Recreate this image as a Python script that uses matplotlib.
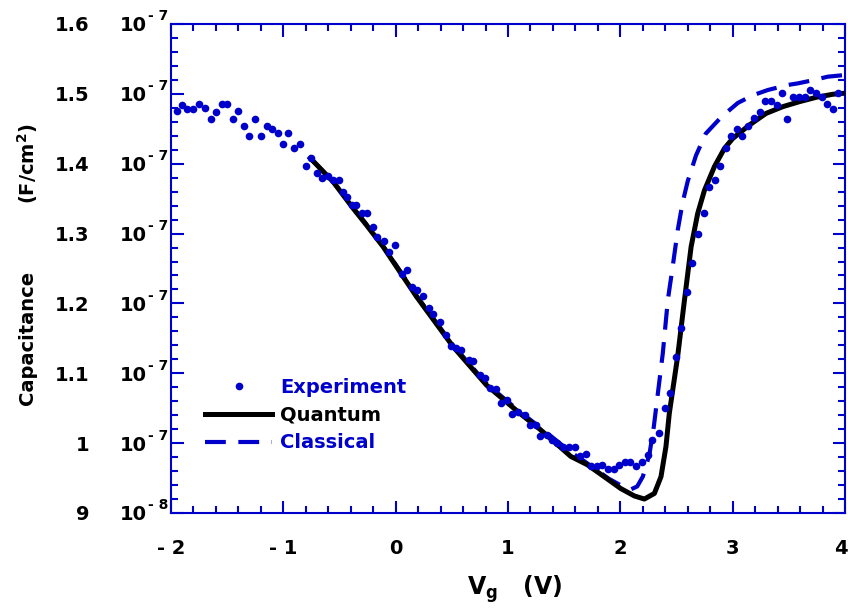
import numpy as np
import matplotlib
matplotlib.use('Agg')
import matplotlib.pyplot as plt
from matplotlib.ticker import MultipleLocator
from matplotlib.transforms import ScaledTranslation

plt.rcParams['font.family'] = ['DejaVu Sans']
plt.rcParams['font.weight'] = 'bold'
plt.rcParams['mathtext.default'] = 'bf'

BLUE = '#0000cc'

# gate voltage (V) and capacitance (in units of 1e-7 F/cm^2)
vg_exp = [-1.95, -1.905, -1.855, -1.80, -1.75, -1.70, -1.647, -1.60, -1.55, -1.50,
          -1.45, -1.40, -1.35, -1.306, -1.253, -1.202, -1.149, -1.104, -1.051, -1.006,
          -0.956, -0.903, -0.852, -0.802, -0.757, -0.704, -0.654, -0.601, -0.556, -0.505,
          -0.467, -0.43, -0.392, -0.354, -0.303, -0.254, -0.200, -0.165, -0.105, -0.058,
          -0.007, 0.052, 0.097, 0.141, 0.186, 0.245, 0.298, 0.334, 0.399, 0.447,
          0.497, 0.536, 0.586, 0.654, 0.690, 0.749, 0.794, 0.838, 0.891, 0.942,
          0.992, 1.040, 1.090, 1.149, 1.194, 1.247, 1.289, 1.343, 1.396, 1.440,
          1.490, 1.544, 1.594, 1.639, 1.692, 1.743, 1.793, 1.840, 1.890, 1.941,
          1.988, 2.039, 2.090, 2.143, 2.193, 2.246, 2.286, 2.344, 2.395, 2.440,
          2.493, 2.537, 2.591, 2.641, 2.695, 2.742, 2.789, 2.840, 2.887, 2.941,
          2.988, 3.040, 3.085, 3.136, 3.189, 3.240, 3.290, 3.337, 3.394, 3.438,
          3.486, 3.536, 3.587, 3.640, 3.691, 3.738, 3.792, 3.839, 3.892, 3.937]
c_exp = [1.4755, 1.484, 1.479, 1.479, 1.485, 1.480, 1.464, 1.4745, 1.485, 1.485,
         1.464, 1.4755, 1.4545, 1.439, 1.464, 1.439, 1.4545, 1.449, 1.4435, 1.428,
         1.4435, 1.423, 1.428, 1.397, 1.408, 1.387, 1.380, 1.3825, 1.377, 1.377,
         1.360, 1.352, 1.341, 1.341, 1.330, 1.330, 1.309, 1.295, 1.290, 1.273,
         1.283, 1.242, 1.248, 1.224, 1.219, 1.211, 1.193, 1.185, 1.174, 1.155,
         1.139, 1.136, 1.133, 1.119, 1.118, 1.0976, 1.093, 1.0785, 1.077, 1.057,
         1.062, 1.042, 1.045, 1.040, 1.026, 1.026, 1.010, 1.0117, 1.0045, 1.0007,
         0.995, 0.995, 0.995, 0.981, 0.9845, 0.967, 0.967, 0.9687, 0.9626, 0.9626,
         0.9687, 0.9735, 0.9735, 0.967, 0.9735, 0.983, 1.0045, 1.014, 1.050, 1.0713,
         1.123, 1.165, 1.216, 1.2575, 1.2994, 1.330, 1.366, 1.377, 1.397, 1.423,
         1.439, 1.449, 1.439, 1.454, 1.465, 1.4745, 1.490, 1.490, 1.484, 1.501,
         1.4645, 1.495, 1.495, 1.495, 1.5055, 1.5017, 1.495, 1.485, 1.479, 1.501]

vg_quantum = [-0.76, -0.556, -0.378, -0.259, -0.111, 0.037, 0.186, 0.512, 0.809, 1.105,
              1.283, 1.559, 1.707, 1.856, 2.004, 2.125, 2.214, 2.303, 2.362, 2.406,
              2.436, 2.47, 2.511, 2.571, 2.630, 2.689, 2.749, 2.838, 2.927, 3.0,
              3.149, 3.297, 3.445, 3.594, 3.742, 3.891, 4.0]
c_quantum = [1.408, 1.374, 1.336, 1.312, 1.281, 1.2454, 1.2096, 1.138, 1.083, 1.0427,
             1.020, 0.981, 0.969, 0.952, 0.935, 0.9244, 0.920, 0.928, 0.952, 0.995,
             1.0427, 1.08, 1.125, 1.205, 1.281, 1.329, 1.362, 1.396, 1.422, 1.436,
             1.4554, 1.472, 1.4816, 1.4888, 1.495, 1.4994, 1.501]

vg_classical = [-0.76, -0.556, -0.378, -0.259, -0.111, 0.037, 0.186, 0.512, 0.809, 1.105,
                1.283, 1.559, 1.672, 1.898, 2.0, 2.097, 2.15, 2.20, 2.259, 2.298,
                2.334, 2.378, 2.423, 2.466, 2.511, 2.555, 2.6, 2.674, 2.76, 2.9,
                3.046, 3.18, 3.313, 3.49, 3.58, 3.729, 3.847, 4.0]
c_classical = [1.408, 1.374, 1.337, 1.313, 1.282, 1.247, 1.211, 1.140, 1.085, 1.045,
               1.023, 0.987, 0.975, 0.949, 0.940, 0.934, 0.938, 0.952, 0.984, 1.0236,
               1.071, 1.1286, 1.205, 1.2526, 1.305, 1.345, 1.375, 1.412, 1.443, 1.467,
               1.487, 1.498, 1.5055, 1.5127, 1.515, 1.52, 1.5246, 1.527]

xtick_vals = [-2, -1, 0, 1, 2, 3, 4]
xtick_labels = ['- 2', '- 1', '0', '1', '2', '3', '4']
ytick_vals = [0.9, 1.0, 1.1, 1.2, 1.3, 1.4, 1.5, 1.6]
ytick_mant = ['9', '1', '1.1', '1.2', '1.3', '1.4', '1.5', '1.6']
ytick_exp = ['- 8', '- 7', '- 7', '- 7', '- 7', '- 7', '- 7', '- 7']

scale = 1e-7

fig = plt.figure(figsize=(8.48, 6.09), dpi=100)
ax = fig.add_axes([171 / 848, 96 / 609, 674 / 848, 489 / 609])

cl, = ax.plot(vg_classical, np.array(c_classical) * scale, color=BLUE, lw=3,
              dashes=(5, 3), zorder=2)
ql, = ax.plot(vg_quantum, np.array(c_quantum) * scale, color='black', lw=3.6,
              solid_joinstyle='round', zorder=3)
ep, = ax.plot(vg_exp, np.array(c_exp) * scale, 'o', color=BLUE, ms=5.5, mew=0,
              zorder=4)

ax.set_xlim(-2, 4)
ax.set_ylim(0.9 * scale, 1.6 * scale)
ax.set_xticks(xtick_vals)
ax.set_xticklabels(xtick_labels)
ax.xaxis.set_minor_locator(MultipleLocator(0.2))
ax.set_yticks([v * scale for v in ytick_vals])
ax.set_yticklabels(ytick_mant)
ax.yaxis.set_minor_locator(MultipleLocator(0.02 * scale))

ax.tick_params(which='both', direction='in', top=True, right=True,
               color=BLUE, width=1.5, labelsize=14)
ax.tick_params(which='major', length=9)
ax.tick_params(which='minor', length=5)
ax.tick_params(axis='x', pad=18.5)
ax.tick_params(axis='y', pad=59)
for s in ax.spines.values():
    s.set_color(BLUE)
    s.set_linewidth(1.5)

# keep the last x label inside the figure edge
last = ax.get_xticklabels()[-1]
last.set_transform(last.get_transform() + ScaledTranslation(-4 / 100, 0, fig.dpi_scale_trans))

# the "10^-7" part of each y tick label
for v, e in zip(ytick_vals, ytick_exp):
    ax.annotate('10', xy=(0, v * scale), xycoords=('axes fraction', 'data'),
                xytext=(-17.3, 0), textcoords='offset points', ha='right',
                va='center_baseline', fontsize=14, annotation_clip=False)
    ax.annotate(e, xy=(0, v * scale), xycoords=('axes fraction', 'data'),
                xytext=(-16.5, 6.5), textcoords='offset points', ha='left',
                va='center_baseline', fontsize=10, annotation_clip=False)

fig.text(515 / 848, 1 - 595 / 609, r'$V_g$   (V)', ha='center', va='baseline',
         fontsize=17)
fig.text(28 / 848, 1 - 338 / 609, 'Capacitance', rotation=90, ha='center',
         va='center', fontsize=14)
fig.text(28 / 848, 1 - 164 / 609, r'(F/cm$^2$)', rotation=90, ha='center',
         va='center', fontsize=14)

leg = ax.legend([ep, ql, cl], ['Experiment', 'Quantum', 'Classical'],
                loc='center left', bbox_to_anchor=(0.0504, 0.2004), frameon=False,
                borderpad=0, borderaxespad=0, handlelength=3.45, handletextpad=0.4,
                labelspacing=0.46, numpoints=1, fontsize=14)
for t, c in zip(leg.get_texts(), [BLUE, 'black', BLUE]):
    t.set_color(c)

fig.savefig('out.png', dpi=100)
